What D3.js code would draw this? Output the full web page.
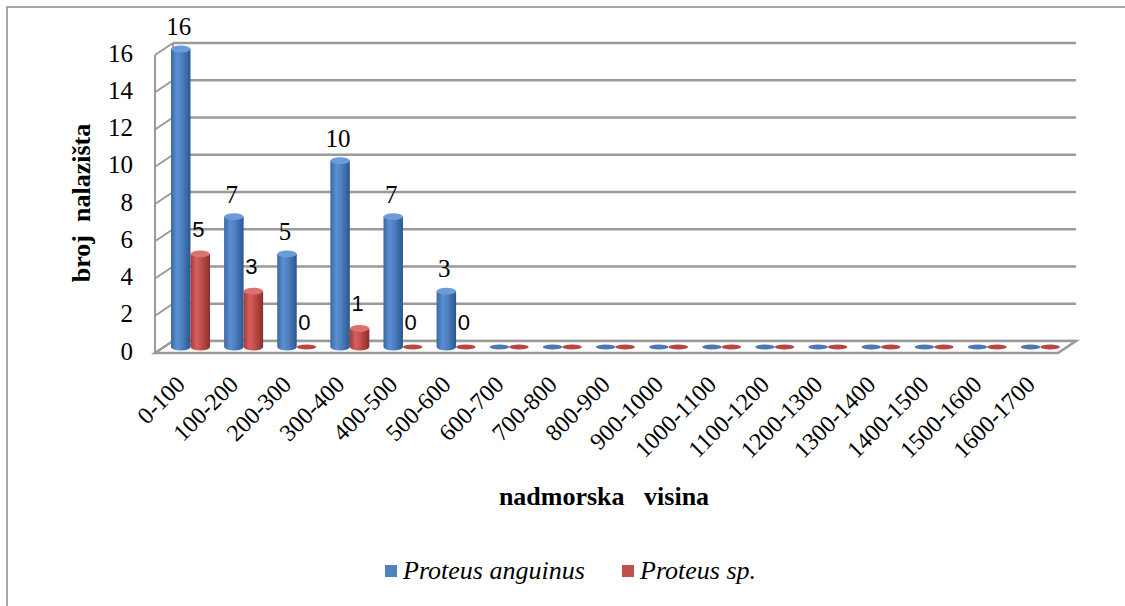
<!DOCTYPE html>
<html>
<head>
<meta charset="utf-8">
<script src="https://cdn.jsdelivr.net/npm/d3@7"></script>
<style>
  body { margin: 0; background: #fff; }
  svg { display: block; }
</style>
</head>
<body>
<svg id="chart" width="1125" height="606"></svg>
<script>
// chart data
var categories = ["0-100", "100-200", "200-300", "300-400", "400-500", "500-600",
    "600-700", "700-800", "800-900", "900-1000", "1000-1100", "1100-1200",
    "1200-1300", "1300-1400", "1400-1500", "1500-1600", "1600-1700"];
var seriesNames = ["Proteus anguinus", "Proteus sp."];
var anguinus = [16, 7, 5, 10, 7, 3, 0, 0, 0, 0, 0, 0, 0, 0, 0, 0, 0];
var proteusSp = [5, 3, 0, 1, 0, 0, 0, 0, 0, 0, 0, 0, 0, 0, 0, 0, 0];
var yTicks = [0, 2, 4, 6, 8, 10, 12, 14, 16];
// data labels only shown for first six ranges
var labelledCats = categories.slice(0, 6);

var svg = d3.select("#chart");
var serif = "'Liberation Serif', 'Times New Roman', serif";
var sans = "'Liberation Sans', Arial, sans-serif";

// depth offset front -> back wall
var depthX = 18, depthY = -12;

var x = d3.scaleBand().domain(categories).range([155, 1058]).padding(0);
var y = d3.scaleLinear().domain([0, 16]).range([353, 55]);   // front plane
var inner = d3.scaleBand().domain(seriesNames).range([7, 46]).padding(0);

// gradients for the cylinders
var defs = svg.append("defs");
function addGrad(id, stops) {
    var g = defs.append("linearGradient").attr("id", id)
        .attr("x1", "0%").attr("x2", "100%").attr("y1", "0%").attr("y2", "0%");
    stops.forEach(function (s) {
        g.append("stop").attr("offset", s[0]).attr("stop-color", s[1]);
    });
}
addGrad("gBlue", [["0%", "#3a67a3"], ["30%", "#5b8fd2"], ["55%", "#4e81c0"], ["100%", "#2b5790"]]);
addGrad("gRed", [["0%", "#a23b38"], ["30%", "#d5605c"], ["55%", "#c0504d"], ["100%", "#8c2d2a"]]);

var colors = {
    "Proteus anguinus": { grad: "url(#gBlue)", top: "#6b9bd8", flat: "#4a78b3", legend: "#4f81bd" },
    "Proteus sp.": { grad: "url(#gRed)", top: "#da726e", flat: "#b84642", legend: "#c0504d" }
};

// outer chart border (only top and left visible)
svg.append("rect")
    .attr("x", 7).attr("y", 7).attr("width", 1200).attr("height", 700)
    .attr("fill", "none").attr("stroke", "#8c8c8c").attr("stroke-width", 1.5);

var gridColor = "#9a9a9a";
var x0 = x.range()[0], x1 = x.range()[1];

// back wall gridlines
svg.append("g").selectAll("line")
    .data(yTicks).enter().append("line")
    .attr("x1", x0 + depthX).attr("x2", x1 + depthX)
    .attr("y1", function (d) { return y(d) + depthY; })
    .attr("y2", function (d) { return y(d) + depthY; })
    .attr("stroke", gridColor).attr("stroke-width", 2.5);

// left wall diagonals
svg.append("g").selectAll("line")
    .data(yTicks).enter().append("line")
    .attr("x1", x0).attr("x2", x0 + depthX)
    .attr("y1", function (d) { return y(d); })
    .attr("y2", function (d) { return y(d) + depthY; })
    .attr("stroke", gridColor).attr("stroke-width", 2);

// left wall verticals
[0, depthX].forEach(function (dx) {
    svg.append("line")
        .attr("x1", x0 + dx).attr("x2", x0 + dx)
        .attr("y1", y(0) + (dx ? depthY : 0)).attr("y2", y(16) + (dx ? depthY : 0))
        .attr("stroke", gridColor).attr("stroke-width", 2);
});

// floor
svg.append("path")
    .attr("d", "M" + x0 + "," + y(0) + "L" + x1 + "," + y(0) + "L" + (x1 + depthX) + "," + (y(0) + depthY) +
        "L" + (x0 + depthX) + "," + (y(0) + depthY) + "Z")
    .attr("fill", "#fff").attr("stroke", gridColor).attr("stroke-width", 2.5)
    .attr("stroke-linejoin", "miter");

// bars sit in the middle of the depth
var midX = depthX / 2, midY = depthY / 2;
var rows = [];
categories.forEach(function (c, i) {
    rows.push({ cat: c, series: seriesNames[0], value: anguinus[i] });
    rows.push({ cat: c, series: seriesNames[1], value: proteusSp[i] });
});

var ry = 3.5;
var barG = svg.append("g");
rows.forEach(function (d) {
    var left = x(d.cat) + midX + inner(d.series);
    var w = inner.bandwidth();
    var rx = w / 2;
    var bottom = y(0) + midY;
    var top = y(d.value) + midY;
    var col = colors[d.series];
    if (d.value === 0) {
        barG.append("ellipse")
            .attr("cx", left + rx).attr("cy", bottom)
            .attr("rx", rx).attr("ry", 2.5)
            .attr("fill", col.flat);
        return;
    }
    barG.append("path")
        .attr("d", "M" + left + "," + top + "L" + left + "," + bottom +
            "A" + rx + "," + ry + " 0 0 0 " + (left + w) + "," + bottom +
            "L" + (left + w) + "," + top + "Z")
        .attr("fill", col.grad);
    barG.append("ellipse")
        .attr("cx", left + rx).attr("cy", top)
        .attr("rx", rx).attr("ry", ry)
        .attr("fill", col.top);
});

// data labels
svg.append("g").selectAll("text")
    .data(rows.filter(function (d) { return labelledCats.indexOf(d.cat) >= 0; }))
    .enter().append("text")
    .attr("x", function (d) { return x(d.cat) + midX + inner(d.series) + inner.bandwidth() / 2 - 2; })
    .attr("y", function (d) {
        var top = y(d.value) + midY;
        return d.series === seriesNames[0] ? top - 14 : top - 17;
    })
    .attr("text-anchor", "middle")
    .style("font-family", function (d) { return d.series === seriesNames[0] ? serif : sans; })
    .style("font-size", function (d) { return d.series === seriesNames[0] ? "25px" : "22px"; })
    .attr("fill", "#000")
    .text(function (d) { return d.value; });

// y axis labels
var yAxis = svg.append("g")
    .attr("transform", "translate(136,-2)")
    .call(d3.axisLeft(y).tickValues(yTicks).tickSize(0).tickPadding(3));
yAxis.select(".domain").remove();
yAxis.selectAll("text")
    .style("font-family", serif).style("font-size", "25px").attr("fill", "#000");

// category labels, rotated
svg.append("g").selectAll("text")
    .data(categories).enter().append("text")
    .attr("transform", function (d) {
        return "translate(" + (x(d) + x.bandwidth() / 2 + 5) + ",386) rotate(-45)";
    })
    .attr("text-anchor", "end")
    .style("font-family", serif).style("font-size", "24px")
    .text(function (d) { return d; });

// axis titles
svg.append("text")
    .attr("transform", "translate(90,203) rotate(-90)")
    .attr("text-anchor", "middle")
    .attr("xml:space", "preserve")
    .style("font-family", serif).style("font-size", "26px").style("font-weight", "bold")
    .style("white-space", "pre")
    .text("broj  nalazišta");

svg.append("text")
    .attr("x", 604).attr("y", 505)
    .attr("text-anchor", "middle")
    .attr("xml:space", "preserve")
    .style("font-family", serif).style("font-size", "26px").style("font-weight", "bold")
    .style("white-space", "pre")
    .text("nadmorska   visina");

// legend
var legendX = [385, 622];
var legend = svg.append("g").selectAll("g")
    .data(seriesNames).enter().append("g")
    .attr("transform", function (d, i) { return "translate(" + legendX[i] + ",565)"; });
legend.append("rect")
    .attr("width", 12).attr("height", 12)
    .attr("fill", function (d) { return colors[d].legend; });
legend.append("text")
    .attr("x", 18).attr("y", 14)
    .style("font-family", serif).style("font-size", "26px").style("font-style", "italic")
    .text(function (d) { return d; });
</script>
</body>
</html>
